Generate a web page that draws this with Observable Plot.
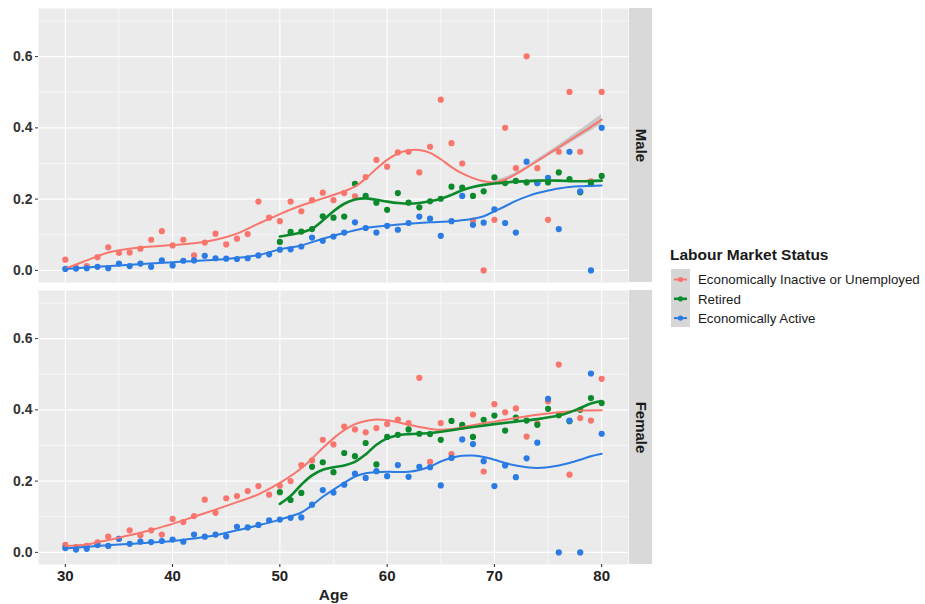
<!DOCTYPE html>
<html><head><meta charset="utf-8">
<script src="https://cdn.jsdelivr.net/npm/d3@7"></script>
<script src="https://cdn.jsdelivr.net/npm/@observablehq/plot@0.6"></script>
<style>
body{margin:0;background:#fff;font-family:"Liberation Sans",Arial,sans-serif;}
#wrap{position:relative;width:925px;height:604px;overflow:hidden;background:#fff;}
#chart{position:absolute;left:0;top:0;}
#legend{position:absolute;left:668px;top:240px;}
</style></head>
<body><div id="wrap"><div id="chart"></div><div id="legend"></div></div>
<script>
// ---------- data ----------
const statuses = ["Economically Inactive or Unemployed", "Retired", "Economically Active"];
const colors = ["#F8766D", "#0b8a2c", "#2a7be4"];
const sexes = ["Male", "Female"];
const xTicks = [30, 40, 50, 60, 70, 80];
const yTicks = [0, 0.2, 0.4, 0.6];
const xMinor = [35, 45, 55, 65, 75];
const yMinor = [0.1, 0.3, 0.5, 0.7];
const legendTitle = "Labour Market Status";
const xTitle = "Age";

const ages = [30,31,32,33,34,35,36,37,38,39,40,41,42,43,44,45,46,47,48,49,50,51,52,53,54,55,56,57,58,59,60,61,62,63,64,65,66,67,68,69,70,71,72,73,74,75,76,77,78,79,80];
const retiredAges = [50,51,52,53,54,55,56,57,58,59,60,61,62,63,64,65,66,67,68,69,70,71,72,73,74,75,76,77,78,79,80];

const maleInactive = [0.030,0.008,0.012,0.037,0.065,0.049,0.050,0.061,0.086,0.110,0.070,0.086,0.042,0.078,0.103,0.073,0.089,0.102,0.193,0.148,0.138,0.193,0.166,0.197,0.218,0.197,0.217,0.208,0.262,0.310,0.291,0.331,0.333,0.275,0.347,0.479,0.357,0.300,0.140,0.000,0.142,0.400,0.287,0.601,0.287,0.142,0.333,0.501,0.333,0.250,0.501];
const maleActive = [0.004,0.005,0.006,0.010,0.006,0.019,0.012,0.019,0.010,0.028,0.014,0.027,0.028,0.041,0.034,0.033,0.032,0.034,0.042,0.045,0.058,0.059,0.067,0.092,0.083,0.095,0.106,0.135,0.119,0.106,0.125,0.114,0.133,0.151,0.145,0.097,0.138,0.209,0.128,0.134,0.171,0.133,0.106,0.305,0.245,0.260,0.116,0.333,0.222,0.000,0.400];
const maleRetired = [0.080,0.108,0.109,0.116,0.152,0.148,0.151,0.243,0.209,0.190,0.170,0.217,0.190,0.177,0.194,0.201,0.235,0.232,0.209,0.222,0.261,0.245,0.251,0.247,0.245,0.247,0.275,0.256,0.219,0.243,0.265];

const femaleInactive = [0.021,0.015,0.018,0.028,0.044,0.038,0.062,0.048,0.062,0.050,0.094,0.085,0.102,0.148,0.111,0.152,0.158,0.172,0.186,0.162,0.187,0.200,0.245,0.258,0.316,0.303,0.353,0.345,0.337,0.349,0.360,0.373,0.363,0.490,0.254,0.363,0.276,0.352,0.387,0.227,0.416,0.393,0.404,0.325,0.362,0.424,0.527,0.218,0.377,0.370,0.487];
const femaleActive = [0.012,0.008,0.010,0.021,0.018,0.038,0.024,0.030,0.029,0.032,0.036,0.030,0.050,0.044,0.050,0.045,0.072,0.070,0.077,0.090,0.092,0.097,0.098,0.134,0.175,0.168,0.190,0.221,0.209,0.228,0.214,0.245,0.212,0.240,0.239,0.188,0.265,0.317,0.304,0.256,0.186,0.244,0.211,0.264,0.308,0.431,0.000,0.370,0.000,0.502,0.333];
const femaleRetired = [0.169,0.147,0.167,0.240,0.253,0.225,0.279,0.270,0.307,0.247,0.324,0.330,0.345,0.333,0.332,0.316,0.369,0.358,0.324,0.372,0.384,0.342,0.378,0.370,0.358,0.403,0.385,0.368,0.400,0.433,0.419];

// smoothed fits
const maleInactiveFitAges = [30,32,34,36,38,40,42,44,46,48,50,52,54,56,57,58,59,60,61,62,63,64,65,66,67,68,69,70,71,72,73,74,75,76,77,78,79,80];
const maleInactiveFit = [0.005,0.028,0.050,0.061,0.067,0.071,0.076,0.086,0.103,0.131,0.158,0.182,0.202,0.222,0.235,0.258,0.285,0.310,0.328,0.337,0.338,0.330,0.312,0.290,0.272,0.259,0.250,0.247,0.255,0.270,0.288,0.307,0.326,0.345,0.365,0.384,0.403,0.423];
const maleInactiveBandAges = [70,72,74,76,78,80];
const maleInactiveBandHalf = [0.004,0.004,0.005,0.007,0.010,0.014];
const maleRetiredFitAges = [50,51,52,53,54,55,56,57,58,59,60,61,62,63,64,65,66,67,68,69,70,72,74,76,78,80];
const maleRetiredFit = [0.095,0.100,0.106,0.117,0.140,0.166,0.187,0.199,0.202,0.198,0.193,0.189,0.187,0.189,0.194,0.201,0.212,0.225,0.234,0.240,0.244,0.249,0.252,0.252,0.250,0.252];
const maleActiveFitAges = [30,35,40,45,48,50,52,54,56,58,60,62,64,66,68,69,70,71,72,73,74,75,76,77,78,79,80];
const maleActiveFit = [0.004,0.014,0.023,0.032,0.043,0.059,0.070,0.089,0.105,0.119,0.126,0.131,0.135,0.138,0.145,0.152,0.166,0.180,0.195,0.207,0.217,0.224,0.230,0.234,0.236,0.237,0.238];

const femaleInactiveFitAges = [30,32,34,36,38,40,42,44,46,48,50,52,54,55,56,57,58,59,60,61,62,63,64,65,66,67,68,70,72,74,76,78,80];
const femaleInactiveFit = [0.018,0.022,0.035,0.048,0.063,0.080,0.100,0.120,0.141,0.163,0.195,0.236,0.293,0.320,0.343,0.360,0.369,0.373,0.371,0.365,0.358,0.352,0.347,0.344,0.346,0.351,0.357,0.367,0.377,0.386,0.393,0.398,0.399];
const femaleRetiredFitAges = [50,51,52,53,54,55,56,57,58,59,60,61,62,64,66,68,70,72,74,76,77,78,79,80];
const femaleRetiredFit = [0.136,0.158,0.190,0.216,0.232,0.239,0.244,0.254,0.275,0.302,0.320,0.329,0.332,0.335,0.343,0.352,0.360,0.367,0.374,0.384,0.393,0.405,0.418,0.425];
const femaleActiveFitAges = [30,35,40,42,44,46,48,50,52,53,54,55,56,57,58,59,60,62,63,64,65,66,67,68,69,70,71,72,73,74,75,76,77,78,79,80];
const femaleActiveFit = [0.011,0.022,0.032,0.039,0.048,0.062,0.076,0.092,0.112,0.132,0.156,0.176,0.195,0.213,0.222,0.225,0.226,0.226,0.231,0.241,0.255,0.265,0.271,0.272,0.268,0.260,0.251,0.244,0.239,0.237,0.239,0.244,0.251,0.260,0.270,0.277];

// ---------- build tables ----------
function rowsOf(sex, status, xs, ys) {
  return xs.map((a, i) => ({sex, status, age: a, value: ys[i]})).filter(d => d.value != null);
}
const points = [
  ...rowsOf("Male", statuses[0], ages, maleInactive),
  ...rowsOf("Male", statuses[1], retiredAges, maleRetired),
  ...rowsOf("Male", statuses[2], ages, maleActive),
  ...rowsOf("Female", statuses[0], ages, femaleInactive),
  ...rowsOf("Female", statuses[1], retiredAges, femaleRetired),
  ...rowsOf("Female", statuses[2], ages, femaleActive)
];
const fits = [
  ...rowsOf("Male", statuses[0], maleInactiveFitAges, maleInactiveFit),
  ...rowsOf("Male", statuses[1], maleRetiredFitAges, maleRetiredFit),
  ...rowsOf("Male", statuses[2], maleActiveFitAges, maleActiveFit),
  ...rowsOf("Female", statuses[0], femaleInactiveFitAges, femaleInactiveFit),
  ...rowsOf("Female", statuses[1], femaleRetiredFitAges, femaleRetiredFit),
  ...rowsOf("Female", statuses[2], femaleActiveFitAges, femaleActiveFit)
];
const fitLookup = new Map(maleInactiveFitAges.map((a, i) => [a, maleInactiveFit[i]]));
const band = maleInactiveBandAges.map((a, i) => ({sex: "Male", age: a, lo: fitLookup.get(a) - maleInactiveBandHalf[i], hi: fitLookup.get(a) + maleInactiveBandHalf[i]}));

const xDomain = [27.5, 82.5];
const yDomain = [-0.034, 0.735];
const stripX = [82.6, 84.75];

const chart = Plot.plot({
  width: 660, height: 604,
  marginLeft: 38, marginRight: 32, marginTop: 8, marginBottom: 39,
  style: {fontFamily: "'Liberation Sans', Arial, sans-serif", background: "transparent", overflow: "visible"},
  x: {domain: xDomain},
  y: {domain: yDomain},
  fy: {domain: sexes, paddingInner: 0.0283, paddingOuter: 0, axis: null, label: null},
  color: {domain: statuses, range: colors},
  marks: [
    Plot.frame({fill: "#ebebeb", stroke: null}),
    Plot.gridY(yMinor, {stroke: "white", strokeOpacity: 1, strokeWidth: 0.55}),
    Plot.gridX(xMinor, {stroke: "white", strokeOpacity: 1, strokeWidth: 0.55}),
    Plot.gridY(yTicks, {stroke: "white", strokeOpacity: 1, strokeWidth: 1.1}),
    Plot.gridX(xTicks, {stroke: "white", strokeOpacity: 1, strokeWidth: 1.1}),
    Plot.rect(sexes, {fy: d => d, x1: () => stripX[0], x2: () => stripX[1], y1: () => yDomain[0], y2: () => yDomain[1], fill: "#d9d9d9"}),
    Plot.text(sexes, {fy: d => d, x: () => (stripX[0] + stripX[1]) / 2, y: () => (yDomain[0] + yDomain[1]) / 2, text: d => d, rotate: 90, fontSize: 15, fontWeight: "bold", fill: "#1a1a1a"}),
    Plot.axisY({ticks: yTicks, tickFormat: ".1f", tickSize: 3, tickPadding: 3, fontSize: 14, fontWeight: "bold", color: "#333", label: null}),
    Plot.axisX({ticks: xTicks, tickSize: 3, tickPadding: 3, fontSize: 15, fontWeight: "bold", color: "#222", label: xTitle, labelAnchor: "center", labelArrow: "none", labelOffset: 35}),
    Plot.dot(points, {x: "age", y: "value", fy: "sex", fill: "status", r: 3.1, stroke: null}),
    Plot.areaY(band, {x: "age", y1: "lo", y2: "hi", fy: "sex", fill: "#9a9a9a", fillOpacity: 0.45, curve: "catmull-rom"}),
    Plot.line(fits, {x: "age", y: "value", z: "status", stroke: "status", fy: "sex", curve: "catmull-rom", strokeWidth: d => d.status === "Retired" ? 2.6 : 2})
  ]
});
document.getElementById("chart").appendChild(chart);
// enlarge the axis title a touch to match the reference
d3.select(chart).selectAll("text").filter(function() { return this.textContent === xTitle; }).attr("font-size", 15.5);

// ---------- legend ----------
const lg = d3.select("#legend").append("svg").attr("width", 257).attr("height", 100)
  .style("font-family", "'Liberation Sans', Arial, sans-serif");
lg.append("text").attr("x", 2).attr("y", 20).attr("font-size", 15.5).attr("font-weight", "bold").attr("fill", "#1a1a1a").text(legendTitle);
lg.append("rect").attr("x", 3).attr("y", 29).attr("width", 19).attr("height", 58).attr("fill", "#d6d6d6");
statuses.forEach((s, i) => {
  const cy = 39.5 + i * 19.3;
  lg.append("line").attr("x1", 6).attr("x2", 19).attr("y1", cy).attr("y2", cy).attr("stroke", colors[i]).attr("stroke-width", i === 1 ? 2.6 : 2);
  lg.append("circle").attr("cx", 12.5).attr("cy", cy).attr("r", 2.6).attr("fill", colors[i]);
  lg.append("text").attr("x", 30).attr("y", cy + 4.7).attr("font-size", 13.3).attr("fill", "#1a1a1a").text(s);
});
</script></body></html>
